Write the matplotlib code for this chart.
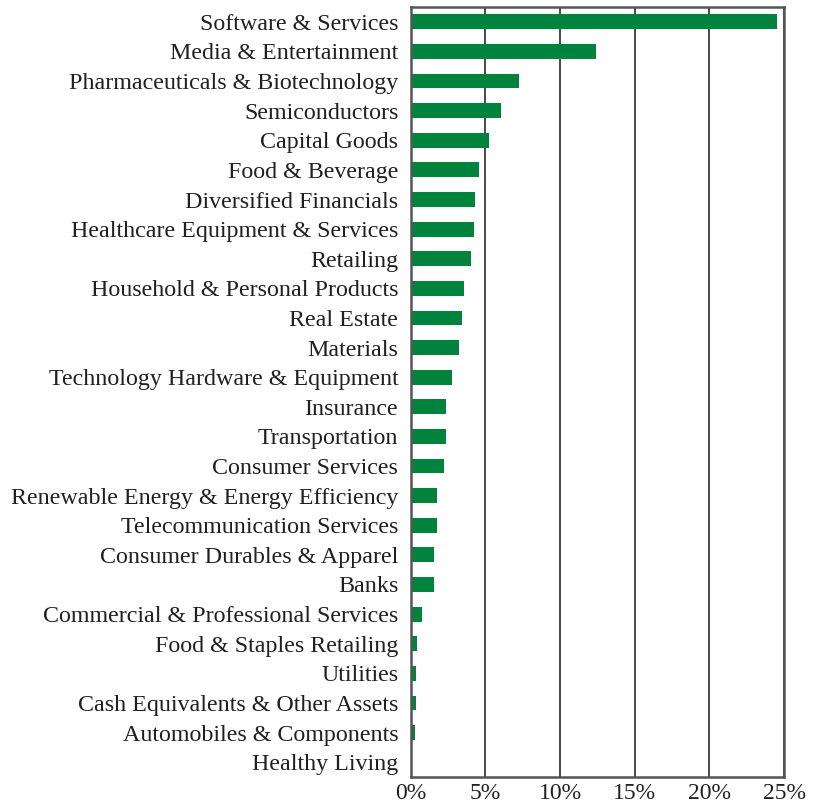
import matplotlib
matplotlib.use("Agg")
import matplotlib.pyplot as plt
from matplotlib.ticker import FuncFormatter

# Sector weights (%)
sectors = [
    "Software & Services", "Media & Entertainment", "Pharmaceuticals & Biotechnology",
    "Semiconductors", "Capital Goods", "Food & Beverage", "Diversified Financials",
    "Healthcare Equipment & Services", "Retailing", "Household & Personal Products",
    "Real Estate", "Materials", "Technology Hardware & Equipment", "Insurance",
    "Transportation", "Consumer Services", "Renewable Energy & Energy Efficiency",
    "Telecommunication Services", "Consumer Durables & Apparel", "Banks",
    "Commercial & Professional Services", "Food & Staples Retailing", "Utilities",
    "Cash Equivalents & Other Assets", "Automobiles & Components", "Healthy Living",
]
weights = [
    24.5, 12.4, 7.24, 6.03, 5.23, 4.56, 4.29, 4.22, 4.02, 3.55, 3.42, 3.22, 2.75,
    2.35, 2.35, 2.21, 1.74, 1.74, 1.54, 1.54, 0.74, 0.40, 0.34, 0.34, 0.27, 0.0,
]
xticks = [0, 5, 10, 15, 20, 25]

plt.rcParams['font.family'] = ['Liberation Serif', 'DejaVu Serif']

fig = plt.figure(figsize=(8.15, 8.07), dpi=100)
ax = fig.add_axes([0.504, 0.0372, 0.458, 0.9541])

ypos = list(range(len(sectors)))
ax.barh(ypos, weights, height=0.5, color='#00843d', zorder=3)

ax.set_yticks(ypos)
ax.set_yticklabels(sectors, fontsize=17.3, color='#231f20')
ax.set_ylim(len(sectors) - 0.5, -0.5)

ax.set_xlim(0, 25)
ax.set_xticks(xticks)
ax.xaxis.set_major_formatter(FuncFormatter(lambda v, p: f"{v:.0f}%"))
ax.tick_params(axis='x', labelsize=17, labelcolor='#231f20', length=0, pad=4)
ax.tick_params(axis='y', length=0, pad=9)

ax.grid(axis='x', color='#2a2a2a', linewidth=1.2, zorder=1)
for s in ax.spines.values():
    s.set_color('#555555')
    s.set_linewidth(1.8)
    s.set_zorder(4)

plt.savefig('out.png', dpi=100, facecolor='white')
